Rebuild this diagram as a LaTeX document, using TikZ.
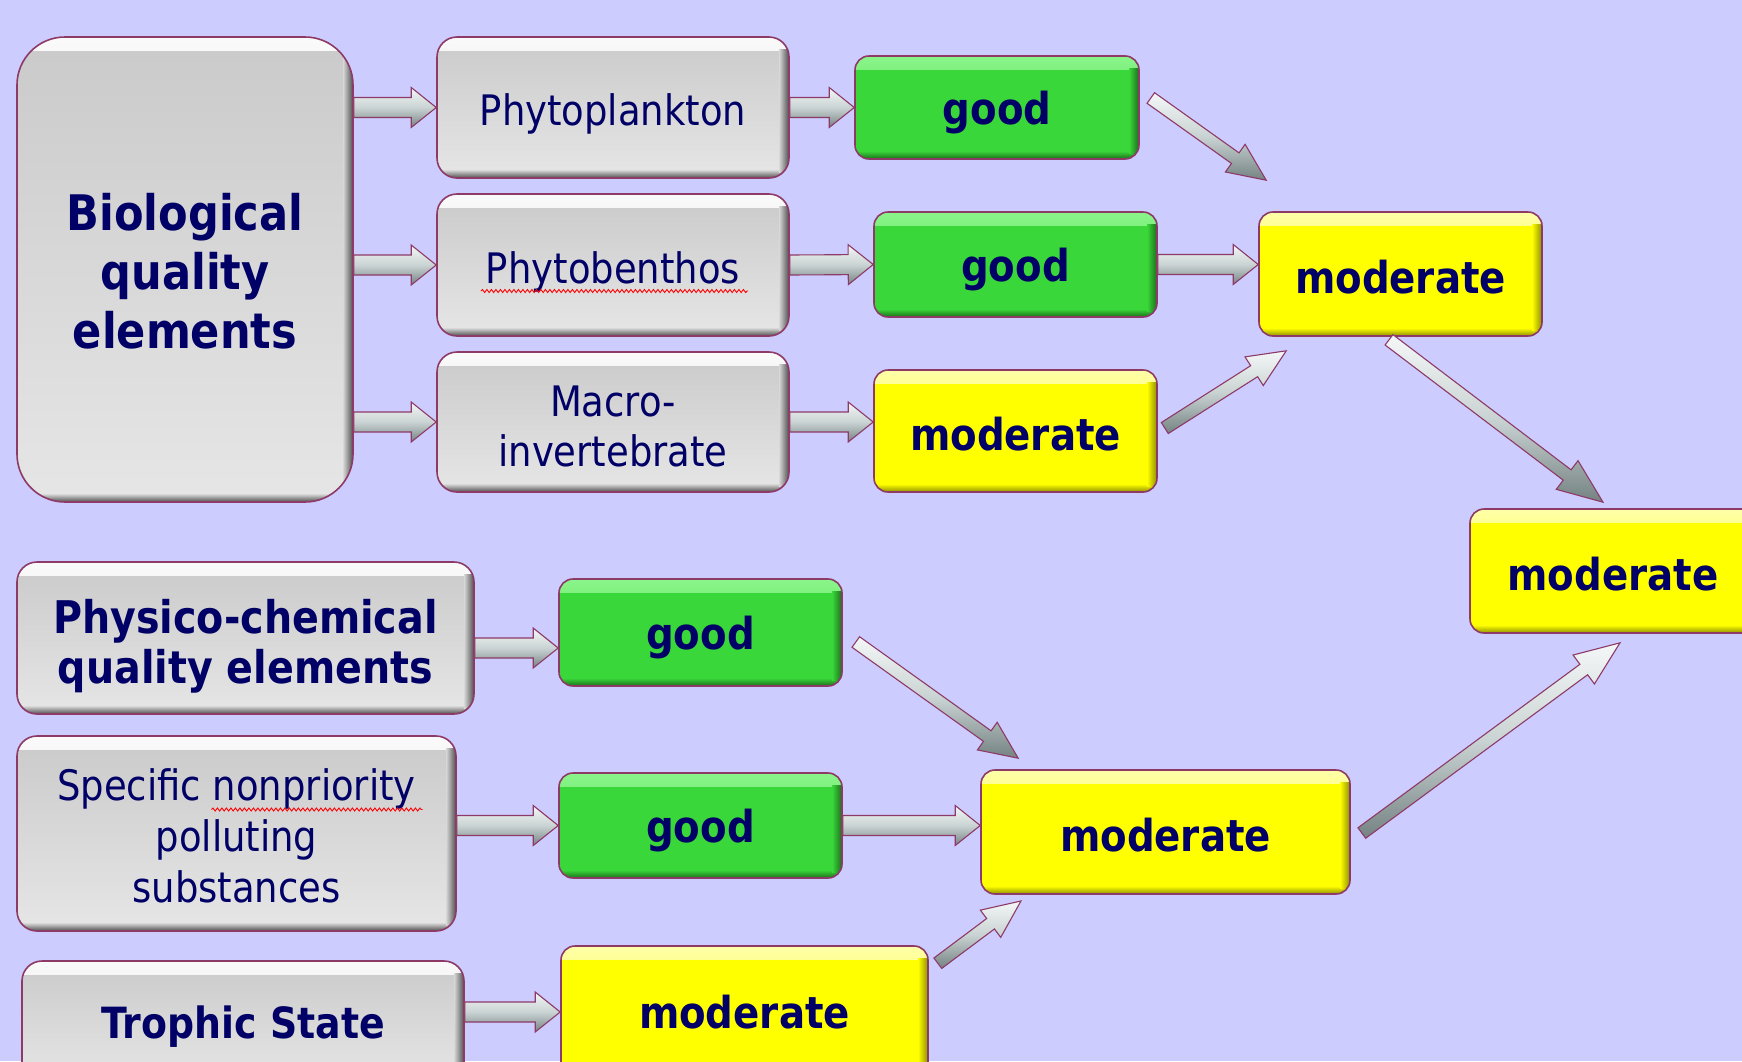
\documentclass[tikz,border=0pt]{standalone}
\usepackage{fontspec}
\newfontfamily\tah[FakeStretch=0.88]{DejaVu Sans}
\usetikzlibrary{calc,decorations.pathmorphing}

\definecolor{bg}{HTML}{CCCCFF}
\definecolor{bord}{HTML}{8E3A67}
\definecolor{navy}{HTML}{000066}
\definecolor{gA}{HTML}{CACACA}
\definecolor{gB}{HTML}{E6E6E6}
\definecolor{gM}{HTML}{D8D8D8}
\definecolor{gD}{HTML}{4E4E4E}
\definecolor{gL}{HTML}{FAFAFA}
\definecolor{grn}{HTML}{3AD73A}
\definecolor{grD}{HTML}{1A6E1A}
\definecolor{grL}{HTML}{8AF58A}
\definecolor{yel}{HTML}{FFFF00}
\definecolor{yeD}{HTML}{8E8E00}
\definecolor{yeL}{HTML}{FFFFA8}
\definecolor{arT}{HTML}{F4F7F7}
\definecolor{arM}{HTML}{CAD3D3}
\definecolor{arB}{HTML}{748282}

\tikzset{
  bevel/.style n args={3}{path picture={
    \shade[sharp corners, top color=#3, bottom color=#1]
      ([yshift=-1pt]path picture bounding box.north west) rectangle ([yshift=-13pt]path picture bounding box.north east);
    \shade[sharp corners, top color=#1, bottom color=#2]
      ([yshift=8pt]path picture bounding box.south west) rectangle (path picture bounding box.south east);
    \shade[sharp corners, left color=#1, right color=#2]
      ([xshift=-10pt,yshift=-12pt]path picture bounding box.north east) rectangle ([yshift=6pt]path picture bounding box.south east);
  }},
  box/.style={draw=bord, line width=1.6pt, inner sep=0pt, align=center, text=navy},
  gbox/.style={box, rounded corners=20pt, top color=gA, bottom color=gB, bevel={gM}{gD}{gL}},
  grbox/.style={box, rounded corners=14pt, fill=grn, bevel={grn}{grD}{grL}, minimum width=283pt,
    text depth=0pt, font=\tah\bfseries\fontsize{44}{50}\selectfont},
  ybox/.style={box, rounded corners=14pt, fill=yel, bevel={yel}{yeD}{yeL}, text height=39pt,
    font=\tah\bfseries\fontsize{44}{50}\selectfont},
  reg/.style={font=\tah\fontsize{42}{50}\selectfont},
  arr/.style={draw=bord, line width=1.1pt, line join=miter, top color=arT, bottom color=arB, middle color=arM},
  wavy/.style={red, line width=0.9pt, decorate, decoration={snake, amplitude=1.5pt, segment length=4.5pt}}
}

% block arrow: #1 from, #2 to, #3 half shaft, #4 half head, #5 head length
\newcommand\barrow[5]{%
  \path #1 coordinate (bas) #2 coordinate (bae);
  \pgfmathanglebetweenpoints{\pgfpointanchor{bas}{center}}{\pgfpointanchor{bae}{center}}%
  \let\baang\pgfmathresult
  \pgfpointdiff{\pgfpointanchor{bas}{center}}{\pgfpointanchor{bae}{center}}%
  \pgfgetlastxy{\bdx}{\bdy}%
  \pgfmathveclen{\bdx}{\bdy}\let\balen\pgfmathresult
  \begin{scope}[shift={(bas)}, rotate=\baang]
    \path[arr] (0,-#3) -- (\balen-#5,-#3) -- (\balen-#5,-#4) -- (\balen,0)
      -- (\balen-#5,#4) -- (\balen-#5,#3) -- (0,#3) -- cycle;
  \end{scope}}

\begin{document}
\begin{tikzpicture}[x=1pt,y=1pt]
\useasboundingbox (0,0) rectangle (1742,-1061);
\clip (0,0) rectangle (1742,-1061);
\fill[bg] (0,0) rectangle (1742,-1061);

% left column
\node[gbox, rounded corners=48pt, minimum width=336pt, minimum height=465pt,
      font=\tah\bfseries\fontsize{49}{59}\selectfont] (bio) at (185,-269.5) {\rule{0pt}{40pt}Biological\\quality\\elements};
\node[gbox, reg, minimum width=352pt, minimum height=141pt] (phyto) at (613,-107.5) {\rule{0pt}{45pt}Phytoplankton};
\node[gbox, reg, minimum width=352pt, minimum height=142pt] (benth) at (613,-265) {\rule{0pt}{45pt}Phytobenthos};
\node[gbox, reg, minimum width=352pt, minimum height=140pt] (macro) at (613,-422) {\rule{0pt}{40pt}Macro-\\invertebrate};

\node[gbox, minimum width=457pt, minimum height=152pt,
      font=\tah\bfseries\fontsize{45}{50}\selectfont] (phys) at (245.5,-638) {\rule{0pt}{50pt}Physico-chemical\\quality elements};
\node[gbox, minimum width=439pt, minimum height=195pt,
      font=\tah\fontsize{42}{51}\selectfont] (spec) at (236.5,-833.5) {\rule{0pt}{36pt}Specific nonpriority\\polluting\\substances};
\node[gbox, minimum width=442pt, minimum height=122pt, text depth=0pt,
      font=\tah\bfseries\fontsize{43}{50}\selectfont] (troph) at (243,-1022) {Trophic State};

% status boxes
\node[grbox, minimum width=284pt, minimum height=103pt] (g1) at (997,-107.5) {good};
\node[grbox, minimum height=105pt] (g2) at (1015.5,-264.5) {good};
\node[ybox, minimum width=283pt, minimum height=122pt] (m1) at (1015.5,-431) {moderate};
\node[ybox, minimum width=283pt, minimum height=124pt] (mb) at (1400.5,-274) {moderate};
\node[ybox, minimum width=286pt, minimum height=124pt] (mf) at (1613,-571) {moderate};

\node[grbox, minimum height=107pt] (gp) at (700.5,-632.5) {good};
\node[grbox, minimum height=105pt] (gs) at (700.5,-825.5) {good};
\node[ybox, minimum width=369pt, minimum height=124pt] (ml) at (1165.5,-832) {moderate};
\node[ybox, minimum width=367pt, minimum height=132pt, text height=33pt] (mt) at (744.5,-1012) {moderate};

% spell-check underlines
\draw[wavy] ([shift={(-132,-26)}]benth.center) -- ([shift={(135,-26)}]benth.center);
\draw[wavy] ([shift={(-25,24)}]spec.center) -- ([shift={(186,24)}]spec.center);

% horizontal arrows
\barrow{(bio.east |- phyto.west)}{(phyto.west)}{10}{20}{25}
\barrow{(bio.east |- benth.west)}{(benth.west)}{10}{20}{25}
\barrow{(bio.east |- macro.west)}{(macro.west)}{10}{20}{25}
\barrow{(phyto.east)}{(g1.west)}{10}{20}{25}
\barrow{(benth.east)}{(g2.west)}{10}{20}{25}
\barrow{(macro.east)}{(m1.west |- macro.east)}{10}{20}{25}
\barrow{(g2.east)}{(mb.west |- g2.east)}{10}{20}{25}
\barrow{([yshift=-10pt]phys.east)}{([yshift=-10pt]phys.east -| gp.west)}{10}{20}{25}
\barrow{(spec.east |- gs.west)}{(gs.west)}{10}{20}{25}
\barrow{(gs.east)}{(ml.west |- gs.east)}{10}{20}{25}
\barrow{(troph.east |- mt.west)}{(mt.west)}{10}{20}{25}

% diagonal arrows
\barrow{([shift={(11,9.5)}]g1.east)}{([shift={(8,31)}]mb.north west)}{6.5}{17}{38}
\barrow{([shift={(7,3)}]m1.east)}{([shift={(28,-14)}]mb.south west)}{6.5}{17}{38}
\barrow{([shift={(-11.5,-3)}]mb.south)}{([shift={(-10,6)}]mf.north)}{6.5}{18}{45}
\barrow{([shift={(13,-9.5)}]gp.east)}{([shift={(38,11)}]ml.north west)}{6.5}{17}{38}
\barrow{([shift={(9,-18)}]mt.north east)}{([shift={(41,-6)}]ml.south west)}{6.5}{17}{38}
\barrow{([shift={(11,-1)}]ml.east)}{([shift={(7,-9)}]mf.south)}{6.5}{18}{45}
\end{tikzpicture}
\end{document}
